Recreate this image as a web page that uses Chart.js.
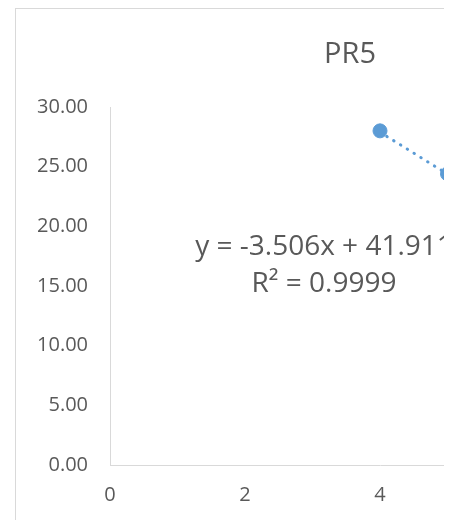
<!DOCTYPE html>
<html>
<head>
<meta charset="utf-8">
<script src="https://cdn.jsdelivr.net/npm/chart.js@4/dist/chart.umd.min.js"></script>
<style>
  html, body { margin: 0; padding: 0; background: #ffffff; }
  #clip { position: absolute; left: 0; top: 0; width: 444px; height: 520px; overflow: hidden; }
  #frame { position: absolute; left: 15px; top: 8px; width: 670px; height: 560px; border: 1px solid #d9d9d9; }
</style>
</head>
<body>
<div id="clip">
  <div id="frame">
    <canvas id="chart-pr5" width="670" height="560"></canvas>
  </div>
</div>
<script>
// PR5 scatter with linear trendline

const chartTitle = "PR5";
const xValues = [4, 5];
const yValues = [28.0, 24.4];
const trendX = [4, 5];
const trendY = [27.89, 24.38];
const trendLabel = ["y = -3.506x + 41.911", "R² = 0.9999"];
const xTicks = [0, 2, 4, 6, 8];
const yTicks = [0, 5, 10, 15, 20, 25, 30];

const textColor = "#595959";
const axisColor = "#d9d9d9";
const seriesColor = "#5b9bd5";
const fontFamily = "'Open Sans', sans-serif";

const points = xValues.map((x, i) => ({ x: x, y: yValues[i] }));
const trend = trendX.map((x, i) => ({ x: x, y: trendY[i] }));

// title centred on the whole chart frame, plus the trendline label
const textPlugin = {
  id: "excelText",
  afterDatasetsDraw(chart) {
    const ctx = chart.ctx;
    ctx.save();
    ctx.fillStyle = textColor;
    ctx.textAlign = "center";
    ctx.textBaseline = "alphabetic";
    ctx.font = "29px " + fontFamily;
    ctx.fillText(chartTitle, 334, 54);
    ctx.font = "28px " + fontFamily;
    ctx.fillText(trendLabel[0], 308, 246);
    ctx.fillText(trendLabel[1], 308, 283);
    ctx.restore();
  },
};

const ctx = document.getElementById("chart-pr5").getContext("2d");

new Chart(ctx, {
  type: "scatter",
  data: {
    datasets: [
      {
        label: "PR5",
        data: points,
        backgroundColor: seriesColor,
        borderColor: seriesColor,
        pointRadius: 7,
        pointHoverRadius: 7,
        showLine: false,
        order: 1,
      },
      {
        label: "Linear (PR5)",
        data: trend,
        showLine: true,
        borderColor: seriesColor,
        borderWidth: 3,
        borderDash: [0.5, 7.5],
        borderCapStyle: "round",
        pointRadius: 0,
        fill: false,
        order: 2,
      },
    ],
  },
  options: {
    responsive: false,
    animation: false,
    layout: {
      padding: { left: 0, right: 36, top: 98, bottom: 0 },
    },
    plugins: {
      legend: { display: false },
      tooltip: { enabled: false },
      title: { display: false },
    },
    scales: {
      x: {
        type: "linear",
        min: 0,
        max: 8,
        afterBuildTicks: (scale) => {
          scale.ticks = xTicks.map((v) => ({ value: v }));
        },
        afterFit: (scale) => {
          scale.height = 104;
        },
        ticks: {
          color: textColor,
          font: { family: fontFamily, size: 20 },
          padding: 18,
        },
        grid: { display: false, drawTicks: false },
        border: { display: true, color: axisColor, width: 1 },
      },
      y: {
        type: "linear",
        min: 0,
        max: 30,
        afterBuildTicks: (scale) => {
          scale.ticks = yTicks.map((v) => ({ value: v }));
        },
        afterFit: (scale) => {
          scale.width = 94;
        },
        ticks: {
          color: textColor,
          font: { family: fontFamily, size: 20 },
          padding: 22,
          callback: (v) => Number(v).toFixed(2),
        },
        grid: { display: false, drawTicks: false },
        border: { display: true, color: axisColor, width: 1 },
      },
    },
  },
  plugins: [textPlugin],
});
</script>
</body>
</html>
